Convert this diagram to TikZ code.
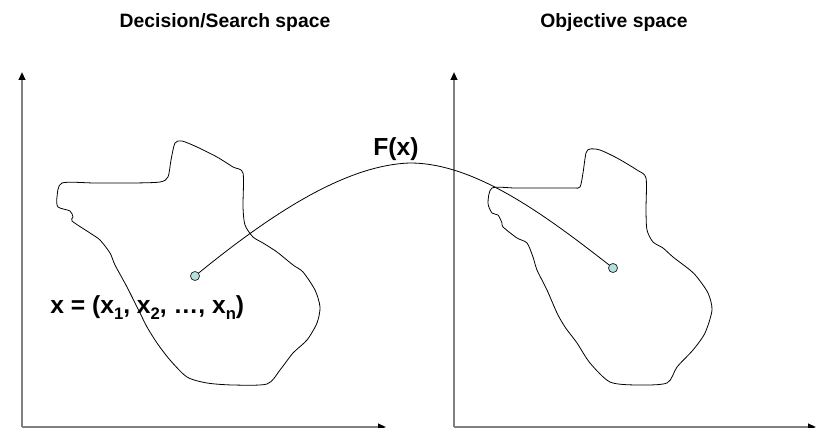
\documentclass[tikz,border=0pt]{standalone}
\usepackage{fontspec}
\setmainfont{Liberation Sans}
\usetikzlibrary{arrows.meta}
\definecolor{dotfill}{RGB}{180,224,224}
\definecolor{axisgray}{RGB}{128,128,128}
\newcommand{\lowsub}[1]{\raisebox{-0.28em}{\fontsize{12.5}{14}\selectfont #1}}
\tikzset{
  axisline/.style={draw=axisgray, line width=1.4pt, -{Triangle[length=6pt,width=5pt,color=black]}},
  region/.style={draw=black, line width=0.6pt},
  dotnode/.style={circle, draw=black!85, fill=dotfill, line width=0.55pt, minimum size=6.8pt, inner sep=0pt},
  maplink/.style={draw=black, line width=0.6pt},
  titletext/.style={font=\bfseries\fontsize{14.5}{17}\selectfont, anchor=base},
  labeltext/.style={font=\bfseries\fontsize{18.5}{22}\selectfont, anchor=base west, inner sep=0pt},
}
\begin{document}
\begin{tikzpicture}[x=0.75pt, y=-0.75pt]
\useasboundingbox (0,0) rectangle (821,428);
% titles
\node[titletext] (t1) at (225,28) {Decision/Search space};
\node[titletext] (t2) at (614,28) {Objective space};
% left axes
\coordinate (o1) at (22,427);
\coordinate (y1) at (22,72);
\coordinate (x1) at (386,427);
\draw[axisline] (o1) -- (y1);
\draw[axisline] (o1) -- (x1);
% right axes
\coordinate (o2) at (454,427);
\coordinate (y2) at (454,72);
\coordinate (x2) at (816,427);
\draw[axisline] (o2) -- (y2);
\draw[axisline] (o2) -- (x2);
% left region
\draw[region] plot[smooth cycle, tension=0.45] coordinates {
 (62,183) (57,197) (58,207) (70,211) (73,217) (72,221) (90,233) (100,240)
 (110,253) (115,265) (127,287) (140,313) (147,327) (157,343) (170,360)
 (187,377) (207,383) (233,385) (267,384) (280,370) (293,353) (307,340)
 (317,323) (320,307) (315,290) (303,272) (293,265) (277,252) (263,243)
 (253,237) (245,225) (243,207) (243,173) (233,167) (217,157) (197,147)
 (182,141) (175,143) (171,160) (168,177) (160,182) (133,183) (95,183)};
% right region
\draw[region] plot[smooth cycle, tension=0.45] coordinates {
 (492,188) (488,203) (492,213) (498,215) (502,223) (503,227) (517,238)
 (527,243) (533,257) (537,270) (547,290) (557,313) (565,327) (577,343)
 (590,363) (610,382) (637,385) (667,383) (677,367) (693,350) (705,333)
 (712,310) (708,293) (697,277) (690,270) (673,257) (663,248) (653,242)
 (647,230) (646,210) (646,178) (637,170) (617,158) (600,150) (590,149)
 (586,153) (583,173) (580,187) (573,188) (543,188) (515,188)};
% points and mapping
\node[dotnode] (d1) at (195,276) {};
\node[dotnode] (d2) at (613,268) {};
\coordinate (peak) at (410,163);
\draw[maplink] (d1) .. controls (270,215) and (345,165) .. (peak)
               .. controls (475,163) and (545,215) .. (d2);
% labels
\node[labeltext] (fx) at (373,155) {F(x)};
\node[labeltext] (xv) at (50,313) {x = (x\lowsub{1}, x\lowsub{2}, …, x\lowsub{n})};
\end{tikzpicture}
\end{document}
